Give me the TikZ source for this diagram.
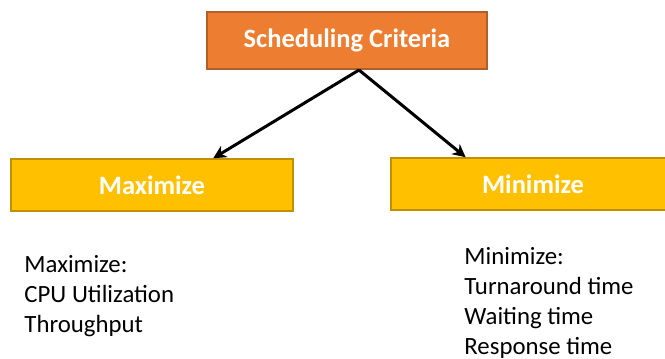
\documentclass[tikz,border=0pt]{standalone}
\usepackage{fontspec}
\setmainfont{Carlito}
\usetikzlibrary{positioning,arrows.meta,calc}

\definecolor{critfill}{HTML}{ED7D31}
\definecolor{critline}{HTML}{B0602A}
\definecolor{goalfill}{HTML}{FFC000}
\definecolor{goalline}{HTML}{BF9000}

\begin{document}
\begin{tikzpicture}[x=1pt,y=-1pt,>={Stealth[length=13pt,width=13pt]},
   box/.style={draw, line width=1.5pt, inner sep=0pt,
     text=white, font=\bfseries\fontsize{26.5}{30}\selectfont},
   goal/.style={box, fill=goalfill, draw=goalline, minimum height=52pt},
   list/.style={inner sep=0pt, align=left, anchor=north west,
     font=\fontsize{24.8}{30}\selectfont}]
  \useasboundingbox (0,0) rectangle (665,359);
  \node[box, fill=critfill, draw=critline, minimum width=280pt,
    minimum height=57pt] (crit) at (347,40.5) {Scheduling Criteria};
  \node[goal, minimum width=282pt] (max) at (152,185) {Maximize};
  \node[goal, minimum width=284pt] (min) at (533,184) {Minimize};
  \coordinate (split) at (359,70);
  % arrows from the top box down to both goals
  \draw[->, line width=3pt] (split) -- ($(max.north west)!.716!(max.north east)$);
  \draw[->, line width=3pt] (split) -- ($(min.north west)!.264!(min.north east)$);
  \node[list, below=43pt of max.south west, anchor=north west, xshift=14pt]
    (maxlist) {Maximize:\\CPU Utilization\\Throughput};
  \node[list, below=36pt of min.south west, anchor=north west, xshift=74pt]
    (minlist) {Minimize:\\Turnaround time\\Waiting time\\Response time};
\end{tikzpicture}
\end{document}
